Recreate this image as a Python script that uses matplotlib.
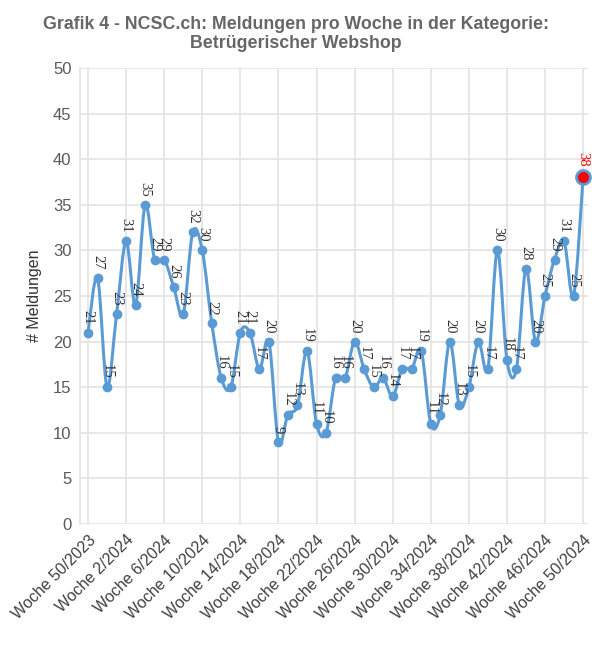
import matplotlib
matplotlib.use("Agg")
import matplotlib.pyplot as plt
from matplotlib.path import Path
from matplotlib.patches import PathPatch
import numpy as np

# Wochen 50/2023 .. 50/2024
weeks = ["Woche 50/2023", "Woche 51/2023", "Woche 52/2023"] + [f"Woche {w}/2024" for w in range(1, 51)]
meldungen = [21, 27, 15,
             23, 31, 24, 35, 29, 29, 26, 23, 32, 30,
             22, 16, 15, 21, 21, 17, 20, 9, 12, 13,
             19, 11, 10, 16, 16, 20, 17, 15, 16, 14,
             17, 17, 19, 11, 12, 20, 13, 15, 20, 17,
             30, 18, 17, 28, 20, 25, 29, 31, 25, 38]
tick_every = 4

LINE = "#5b9bd5"
GRID = "#e3e3e3"
TXT = "#595959"


def smooth_path(x, y):
    """Catmull-Rom Kurve als Bezier-Segmente (wie 'geglättete Linie')."""
    pts = np.column_stack([x, y]).astype(float)
    n = len(pts)
    verts = [pts[0]]
    codes = [Path.MOVETO]
    for i in range(n - 1):
        p0 = pts[max(i - 1, 0)]
        p1 = pts[i]
        p2 = pts[i + 1]
        p3 = pts[min(i + 2, n - 1)]
        c1 = p1 + (p2 - p0) / 6.0
        c2 = p2 - (p3 - p1) / 6.0
        verts += [c1, c2, p2]
        codes += [Path.CURVE4] * 3
    return Path(verts, codes)


fig = plt.figure(figsize=(5.92, 6.51), dpi=100)
ax = fig.add_axes([0.135, 0.195, 0.858, 0.7005])

x = np.arange(len(meldungen))
y = np.array(meldungen)

ax.add_patch(PathPatch(smooth_path(x, y), facecolor="none", edgecolor=LINE,
                       lw=2.2, zorder=3, capstyle="round", joinstyle="round"))
ax.plot(x[:-1], y[:-1], "o", color=LINE, ms=6, zorder=4)
ax.plot(x[-1], y[-1], "o", color="red", ms=10, mec=LINE, mew=2, zorder=5,
        clip_on=False)

for xi, yi in zip(x, y):
    last = xi == x[-1]
    ax.annotate(str(yi), (xi, yi), xytext=(0, 6 if not last else 8),
                textcoords="offset points", rotation=-90, ha="center", va="bottom",
                fontsize=10.5, family="Liberation Serif",
                color="red" if last else "#333333", zorder=6, annotation_clip=False)

ax.set_xlim(-0.85, 52.5)
ax.set_ylim(0, 50)
ax.set_yticks(np.arange(0, 51, 5))
ticks = list(range(0, len(weeks), tick_every))
ax.set_xticks(ticks)
ax.set_xticklabels([weeks[i] for i in ticks], rotation=45, ha="right",
                   rotation_mode="anchor", fontsize=11.5, color="#404040",
                   family="Liberation Sans")
for lab in ax.get_yticklabels():
    lab.set_fontsize(12)
    lab.set_color(TXT)
    lab.set_family("Liberation Sans")
ax.tick_params(axis="both", length=0, pad=6)
ax.tick_params(axis="x", pad=6)

ax.grid(True, color=GRID, lw=1.2, zorder=0)
ax.set_axisbelow(True)
for s in ["top", "right", "bottom"]:
    ax.spines[s].set_visible(False)
ax.spines["left"].set_color(GRID)
ax.spines["left"].set_linewidth(1.2)

ax.set_ylabel("# Meldungen", fontsize=11.5, color="#333333", family="Liberation Sans",
              labelpad=8)

fig.text(0.5, 0.975, "Grafik 4 - NCSC.ch: Meldungen pro Woche in der Kategorie:\nBetrügerischer Webshop",
         ha="center", va="top", fontsize=12.8, fontweight="bold", color="#666666",
         family="Liberation Sans", linespacing=1.1)

plt.savefig("out.png", dpi=100)
